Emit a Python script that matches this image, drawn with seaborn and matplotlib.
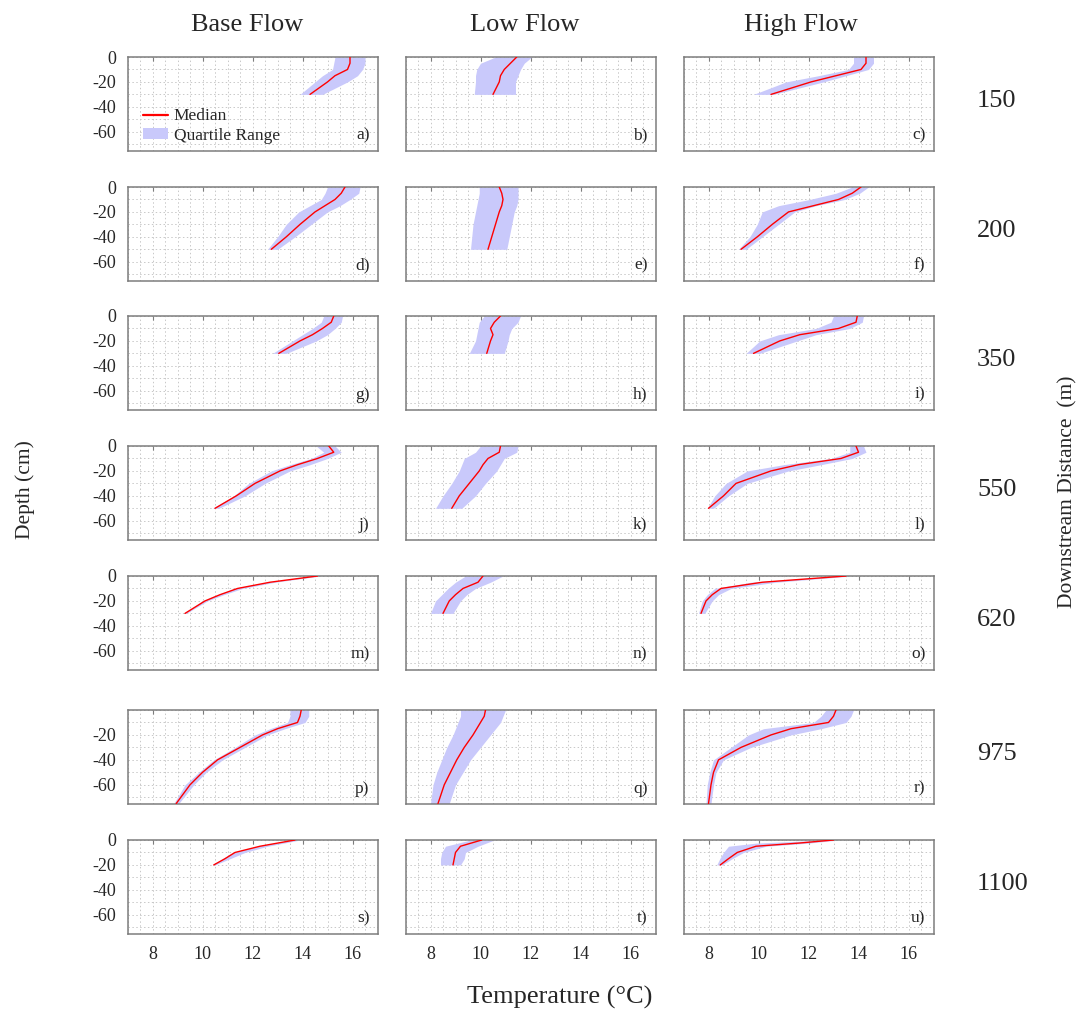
import numpy as np
import pandas as pd
import matplotlib
matplotlib.use("Agg")
import matplotlib.pyplot as plt
import seaborn as sns
from matplotlib.lines import Line2D
from matplotlib.patches import Patch

sns.set_style("white")
plt.rcParams['font.family'] = ['Liberation Serif', 'DejaVu Serif']
plt.rcParams['axes.unicode_minus'] = False

# ---------------- data ----------------
flows = ["Base Flow", "Low Flow", "High Flow"]
distances = ["150", "200", "350", "550", "620", "975", "1100"]
panel_letters = list("abcdefghijklmnopqrstu")
temp_ticks = [8, 10, 12, 14, 16]
depth_ticks = [0, -20, -40, -60]

d6 = [0, -5, -10, -15, -20, -30]
d8 = [0, -5, -10, -15, -20, -30, -40, -50]
d10 = [0, -5, -10, -15, -20, -30, -40, -50, -60, -75]
d5 = [0, -5, -10, -15, -20]

# 150 m
a_depth = d6
a_median = [15.9, 15.9, 15.8, 15.3, 15.0, 14.3]
a_q1 = [15.3, 15.25, 15.2, 14.8, 14.5, 13.9]
a_q3 = [16.5, 16.5, 16.4, 16.2, 15.8, 14.8]
b_depth = d6
b_median = [11.45, 11.2, 10.95, 10.8, 10.75, 10.5]
b_q1 = [10.6, 10.0, 9.85, 9.8, 9.8, 9.75]
b_q3 = [12.05, 11.75, 11.6, 11.5, 11.4, 11.4]
c_depth = d6
c_median = [14.3, 14.3, 14.1, 13.1, 12.1, 10.5]
c_q1 = [13.8, 13.8, 13.6, 12.4, 11.1, 9.8]
c_q3 = [14.6, 14.6, 14.4, 13.5, 12.6, 10.6]
# 200 m
d_depth = d8
d_median = [15.7, 15.55, 15.3, 14.9, 14.5, 13.9, 13.35, 12.75]
d_q1 = [15.0, 14.9, 14.75, 14.3, 13.85, 13.35, 13.0, 12.6]
d_q3 = [16.3, 16.25, 15.9, 15.5, 15.0, 14.35, 13.7, 13.0]
e_depth = d8
e_median = [10.75, 10.85, 10.9, 10.85, 10.75, 10.6, 10.45, 10.3]
e_q1 = [9.95, 9.95, 9.9, 9.85, 9.8, 9.7, 9.65, 9.6]
e_q3 = [11.5, 11.5, 11.5, 11.45, 11.35, 11.25, 11.15, 11.05]
f_depth = d8
f_median = [14.1, 13.75, 13.2, 12.2, 11.2, 10.55, 9.95, 9.3]
f_q1 = [13.75, 13.1, 12.05, 10.8, 10.15, 9.95, 9.65, 9.2]
f_q3 = [14.4, 14.05, 13.45, 12.3, 11.45, 10.8, 10.15, 9.5]
# 350 m
g_depth = d6
g_median = [15.25, 15.15, 14.8, 14.4, 13.9, 13.05]
g_q1 = [14.85, 14.75, 14.4, 14.0, 13.6, 12.8]
g_q3 = [15.6, 15.55, 15.3, 15.0, 14.55, 13.35]
h_depth = d6
h_median = [10.8, 10.55, 10.4, 10.5, 10.4, 10.25]
h_q1 = [10.15, 9.95, 9.9, 9.85, 9.8, 9.55]
h_q3 = [11.6, 11.5, 11.25, 11.15, 11.1, 10.95]
i_depth = d6
i_median = [13.95, 13.9, 13.2, 11.65, 10.85, 9.8]
i_q1 = [13.0, 12.9, 12.3, 10.8, 10.05, 9.5]
i_q3 = [14.2, 14.15, 13.65, 12.3, 11.55, 10.05]
# 550 m
j_depth = d8
j_median = [15.05, 15.25, 14.6, 13.8, 13.1, 12.1, 11.35, 10.5]
j_q1 = [14.55, 14.85, 14.35, 13.5, 12.75, 11.85, 11.25, 10.4]
j_q3 = [15.3, 15.55, 15.0, 14.3, 13.5, 12.5, 11.7, 10.65]
k_depth = d8
k_median = [10.8, 10.75, 10.3, 10.1, 9.95, 9.55, 9.15, 8.85]
k_q1 = [10.0, 9.8, 9.35, 9.25, 9.15, 8.85, 8.5, 8.2]
k_q3 = [11.5, 11.45, 10.95, 10.8, 10.65, 10.2, 9.8, 9.25]
l_depth = d8
l_median = [13.9, 14.0, 13.3, 11.6, 10.5, 9.1, 8.6, 8.0]
l_q1 = [13.65, 13.65, 12.9, 11.0, 9.55, 8.7, 8.25, 7.95]
l_q3 = [14.2, 14.3, 13.75, 12.5, 11.2, 9.55, 8.8, 8.2]
# 620 m
m_depth = d6
m_median = [14.6, 12.7, 11.4, 10.7, 10.1, 9.3]
m_q1 = [14.5, 12.6, 11.3, 10.6, 10.0, 9.25]
m_q3 = [14.7, 12.9, 11.6, 10.85, 10.2, 9.35]
n_depth = d6
n_median = [10.1, 9.9, 9.3, 9.0, 8.75, 8.5]
n_q1 = [9.4, 9.0, 8.7, 8.45, 8.2, 8.0]
n_q3 = [10.9, 10.4, 9.8, 9.45, 9.2, 8.9]
o_depth = d6
o_median = [13.5, 10.15, 8.5, 8.15, 7.9, 7.7]
o_q1 = [13.3, 9.7, 8.25, 7.95, 7.75, 7.6]
o_q3 = [13.7, 10.7, 8.9, 8.4, 8.15, 7.85]
# 975 m
p_depth = d10
p_median = [13.95, 13.9, 13.8, 13.0, 12.4, 11.5, 10.6, 10.0, 9.5, 8.95]
p_q1 = [13.5, 13.5, 13.4, 12.7, 12.1, 11.3, 10.45, 9.85, 9.3, 8.85]
p_q3 = [14.25, 14.25, 14.1, 13.3, 12.6, 11.7, 10.8, 10.15, 9.65, 9.05]
q_depth = d10
q_median = [10.2, 10.15, 10.0, 9.85, 9.7, 9.35, 9.05, 8.8, 8.55, 8.3]
q_q1 = [9.2, 9.2, 9.1, 9.0, 8.9, 8.65, 8.45, 8.25, 8.1, 8.0]
q_q3 = [11.0, 10.9, 10.8, 10.6, 10.4, 10.0, 9.6, 9.3, 9.0, 8.75]
r_depth = d10
r_median = [13.1, 13.0, 12.8, 11.3, 10.5, 9.3, 8.4, 8.2, 8.1, 8.0]
r_q1 = [12.7, 12.5, 12.2, 10.2, 9.6, 8.9, 8.2, 8.05, 7.95, 7.9]
r_q3 = [13.8, 13.7, 13.5, 12.5, 11.3, 9.7, 8.6, 8.3, 8.2, 8.1]
# 1100 m
s_depth = d5
s_median = [13.7, 12.3, 11.3, 10.9, 10.45]
s_q1 = [13.6, 12.2, 11.2, 10.8, 10.4]
s_q3 = [13.9, 12.6, 11.7, 11.1, 10.5]
t_depth = d5
t_median = [10.05, 9.2, 9.0, 8.95, 8.9]
t_q1 = [9.6, 8.6, 8.45, 8.4, 8.4]
t_q3 = [10.55, 9.9, 9.4, 9.35, 9.2]
u_depth = [0, -2.5, -5, -10, -15, -20]
u_median = [13.0, 11.6, 9.9, 9.15, 8.8, 8.47]
u_q1 = [12.7, 9.9, 8.8, 8.6, 8.45, 8.33]
u_q3 = [13.2, 12.0, 10.3, 9.4, 8.95, 8.55]

g_ = globals()
frames = []
for idx, L in enumerate(panel_letters):
    frames.append(pd.DataFrame({
        "panel": L,
        "row": idx // 3,
        "col": idx % 3,
        "depth": g_[f"{L}_depth"],
        "median": g_[f"{L}_median"],
        "q1": g_[f"{L}_q1"],
        "q3": g_[f"{L}_q3"],
    }))
df = pd.concat(frames, ignore_index=True)

# ---------------- layout ----------------
W, H = 1084, 1014
fig = plt.figure(figsize=(W / 100, H / 100), dpi=100)
col_left = [127.5, 405.5, 683.5]
row_top = [57, 187, 316, 446, 576, 710, 840]
ax_w, ax_h = 250, 93.5
title_x = [247, 525, 801]

band_color = "#c9c9fb"
line_color = "#ff0000"
edge_color = "#7d7d7d"

for idx, L in enumerate(panel_letters):
    r, c = idx // 3, idx % 3
    ax = fig.add_axes([col_left[c] / W, 1 - (row_top[r] + ax_h) / H, ax_w / W, ax_h / H])
    sub = df[df["panel"] == L]
    ax.fill_betweenx(sub["depth"], sub["q1"], sub["q3"], color=band_color, lw=0, zorder=2)
    sns.lineplot(data=sub, x="median", y="depth", orient="y", sort=False, estimator=None,
                 color=line_color, lw=1.0, ax=ax, zorder=3)
    ax.set_xlim(7, 17)
    ax.set_ylim(-75, 0)
    ax.set_xticks(temp_ticks)
    ax.set_xticks(np.arange(7, 17.01, 0.5), minor=True)
    ax.set_yticks(np.arange(-70, 0.01, 10), minor=True)
    if c == 0:
        if r == 5:
            ax.set_yticks([-20, -40, -60])
        else:
            ax.set_yticks(depth_ticks)
    else:
        ax.set_yticks([])
    ax.grid(True, which="both", ls=(0, (1.5, 2.5)), color="#c8c8c8", lw=0.7, zorder=0)
    ax.set_axisbelow(True)
    ax.tick_params(axis="both", which="major", direction="in", length=3, color=edge_color,
                   labelsize=13, pad=8)
    ax.tick_params(axis="x", which="major", top=True)
    ax.tick_params(axis="both", which="minor", length=0)
    if r < 6:
        ax.set_xticklabels([])
    else:
        ax.tick_params(axis="x", pad=9)
    for sp in ax.spines.values():
        sp.set_color(edge_color)
        sp.set_linewidth(1.1)
    ax.set_xlabel("")
    ax.set_ylabel("")
    ax.text(0.968, 0.16, f"{L})", transform=ax.transAxes, ha="right", va="center", fontsize=12.5)
    if idx == 0:
        handles = [Line2D([0], [0], color=line_color, lw=1.6),
                   Patch(facecolor=band_color, edgecolor="none")]
        ax.legend(handles, ["Median", "Quartile Range"], loc="lower left",
                  bbox_to_anchor=(0.06, 0.07), frameon=False, fontsize=12.5,
                  handlelength=1.45, handleheight=0.6, handletextpad=0.35,
                  labelspacing=0.2, borderaxespad=0, borderpad=0)

for c, name in enumerate(flows):
    fig.text(title_x[c] / W, 1 - 25 / H, name, ha="center", va="center", fontsize=19)
for r, dist in enumerate(distances):
    fig.text(977 / W, 1 - (row_top[r] + ax_h / 2 - 3) / H, dist, ha="left", va="center", fontsize=19)

fig.text(25 / W, 1 - 490 / H, "Depth (cm)", rotation=90, ha="center", va="center", fontsize=15.5)
fig.text(1068 / W, 1 - 492 / H, "Downstream Distance  (m)", rotation=90, ha="center", va="center", fontsize=15.5)
fig.text(560 / W, 1 - 997 / H, "Temperature (°C)", ha="center", va="center", fontsize=19)

fig.savefig("out.png", dpi=100, facecolor="white")
